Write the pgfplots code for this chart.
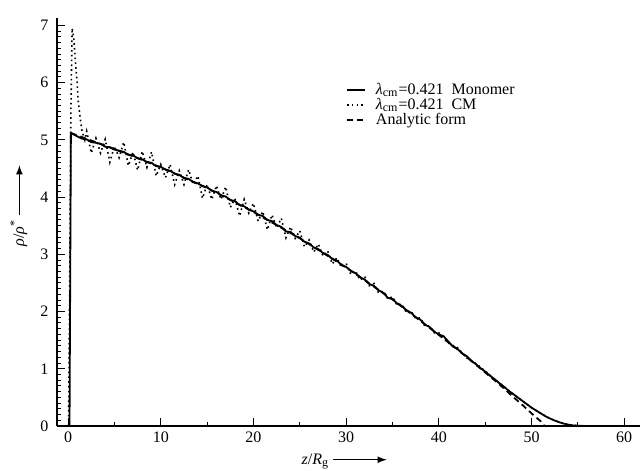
\documentclass[border=0pt]{standalone}
\usepackage{fontspec}
\setmainfont{Liberation Serif}
\usepackage{pgfplots}
\pgfplotsset{compat=1.18}
\begin{document}
\fontsize{8}{9.6}\selectfont
\begin{tikzpicture}
\begin{axis}[
  scale only axis, width=291.5pt, height=204pt,
  xmin=-1.2, xmax=61.7, ymin=0, ymax=7.13,
  axis lines*=left,
  axis line style={line width=1pt},
  tick align=inside,
  xtick={0,10,...,60}, ytick={0,1,...,7},
  minor x tick num=1, minor y tick num=9,
  major tick length=4pt, minor tick length=2.2pt,
  every tick/.style={black, line width=0.5pt},
  /pgf/number format/assume math mode=true,
  ticklabel style={font=\fontsize{8}{9.6}\selectfont},
  yticklabel style={xshift=-1.5pt},
  xlabel={\textit{z}/\textit{R}\textsubscript{g}\hspace{1.5pt}\tikz[baseline=-0.6ex]\draw[-latex, line width=0.6pt] (0,0)--(27pt,0);},
  ylabel={\textit{ρ}/\textit{ρ}\textsuperscript{*}\hspace{2pt}\tikz[baseline=-0.6ex]\draw[-latex, line width=0.6pt] (0,0)--(25pt,0);},
  xlabel style={font=\fontsize{8}{9.6}\selectfont, xshift=-2pt},
  ylabel style={font=\fontsize{8}{9.6}\selectfont, at={(ticklabel cs:0.54)}},
  ylabel shift=1pt,
  legend cell align=left,
  legend style={draw=none, fill=none, at={(rel axis cs:0.485,0.86)}, anchor=north west,
    font=\fontsize{8}{9.6}\selectfont, row sep=-3.5pt},
  legend image code/.code={\draw[#1] (0pt,0pt)--(9pt,0pt); \path (12pt,0pt);},
]
\coordinate (ll) at (rel axis cs:0,0);
\coordinate (ur) at (rel axis cs:1,1);
% Monomer
\addplot[black, line width=0.9pt] coordinates {
(0.15,0) (0.3,5.12) (1,5.06) (1.5,5.02) (2,5.01) (2.5,4.96) (3,4.95) (3.5,4.93) (4,4.88) (4.5,4.87)
(5,4.83) (5.5,4.81) (6,4.79) (6.5,4.74) (7,4.73) (7.5,4.68) (8,4.66) (8.5,4.61) (9,4.60) (9.5,4.54)
(10,4.53) (10.5,4.48) (11,4.46) (11.5,4.41) (12,4.39) (12.5,4.33) (13,4.32) (13.5,4.26) (14,4.24) (14.5,4.19)
(15,4.17) (15.5,4.11) (16,4.09) (16.5,4.03) (17,4.01) (17.5,3.95) (18,3.93) (18.5,3.86) (19,3.84) (19.5,3.78)
(20,3.75) (20.5,3.69) (21,3.67) (21.5,3.60) (22,3.58) (22.5,3.51) (23,3.48) (23.5,3.40) (24,3.39) (24.5,3.32)
(25,3.29) (25.5,3.22) (26,3.19) (26.5,3.12) (27,3.09) (27.5,3.02) (28,2.99) (28.5,2.92) (29,2.89) (29.5,2.81)
(30,2.78) (30.5,2.71) (31,2.67) (31.5,2.60) (32,2.56) (32.5,2.48) (33,2.45) (33.5,2.37) (34,2.33) (34.5,2.24)
(35,2.22) (35.5,2.14) (36,2.10) (36.5,2.02) (37,1.98) (37.5,1.90) (38,1.86) (38.5,1.77) (39,1.73) (39.5,1.65)
(40,1.60) (40.5,1.57) (41,1.48) (41.5,1.39) (42,1.35) (42.5,1.27) (43,1.22) (43.5,1.14) (44,1.08) (44.5,1.01)
(45,0.95) (45.5,0.88) (46,0.82) (46.5,0.75) (47,0.69) (47.5,0.62) (48,0.56) (48.5,0.50) (49,0.44) (49.5,0.38)
(50,0.32) (50.5,0.27) (51,0.22) (51.5,0.17) (52,0.13) (52.5,0.095) (53,0.065) (53.5,0.04) (54,0.022) (54.5,0.01)
(55,0.004) (56,0)
};
\addlegendentry{\textit{λ}\textsubscript{cm}=0.421\ \ Monomer}
% CM
\addplot[black, line width=0.8pt, dash pattern=on 0.8pt off 1.6pt] coordinates {
(0.05,0) (0.15,2) (0.3,5.5) (0.43,6.95) (0.6,6.8) (0.75,6.45) (0.97,6.0) (1.08,5.7) (1.29,5.4) (1.5,5.15) (1.8,5.0)
(2,5.15) (2.5,4.77) (3,5.03) (3.5,4.77) (4,5.01) (4.5,4.61) (5,4.89) (5.5,4.69) (6,4.96) (6.5,4.55)
(7,4.79) (7.5,4.47) (8,4.80) (8.5,4.52) (9,4.79) (9.5,4.37) (10,4.57) (10.5,4.34) (11,4.57) (11.5,4.22)
(12,4.46) (12.5,4.22) (13,4.48) (13.5,4.22) (14,4.37) (14.5,3.98) (15,4.22) (15.5,3.96) (16,4.20) (16.5,3.96)
(17,4.18) (17.5,3.82) (18,3.97) (18.5,3.67) (19,3.96) (19.5,3.72) (20,3.89) (20.5,3.58) (21,3.75) (21.5,3.43)
(22,3.69) (22.5,3.46) (23,3.63) (23.5,3.29) (24,3.48) (24.5,3.28) (25,3.41) (25.5,3.13) (26,3.25) (26.5,3.04)
(27,3.18) (27.5,2.97) (28,3.06) (28.5,2.83) (29,2.94) (29.5,2.77) (30,2.84) (30.5,2.65) (31,2.71) (31.5,2.55)
(32,2.61) (32.5,2.45) (33,2.49) (33.5,2.32) (34,2.36) (34.5,2.22) (35,2.26) (35.5,2.11) (36,2.13) (36.5,1.98)
(37,2.01) (37.5,1.88) (38,1.89) (38.5,1.74) (39,1.75) (39.5,1.63) (40,1.63) (41,1.45) (42,1.37) (43,1.19)
(44,1.09) (45,0.96) (46,0.82) (47,0.69) (48,0.56) (49,0.44) (50,0.32) (51,0.22) (52,0.13) (53,0.065)
(54,0.022) (55,0.004) (56,0)
};
\addlegendentry{\textit{λ}\textsubscript{cm}=0.421\ \ CM}
% Analytic
\addplot[black, line width=0.9pt, dash pattern=on 3pt off 2pt] coordinates {
(0.3,5.12) (5,4.84) (10,4.52) (15,4.16) (20,3.74) (25,3.28) (30,2.77) (35,2.21) (40,1.59)
(42,1.34) (44,1.07) (46,0.80) (47,0.66) (48,0.51) (49,0.37) (50,0.22) (50.5,0.15) (51,0.08) (51.4,0)
};
\addlegendentry{Analytic form}
\end{axis}
\pgfresetboundingbox
\path[use as bounding box] ([xshift=-28.5pt,yshift=-22.5pt]ll) rectangle ([yshift=9pt]ur);
\end{tikzpicture}
\end{document}
